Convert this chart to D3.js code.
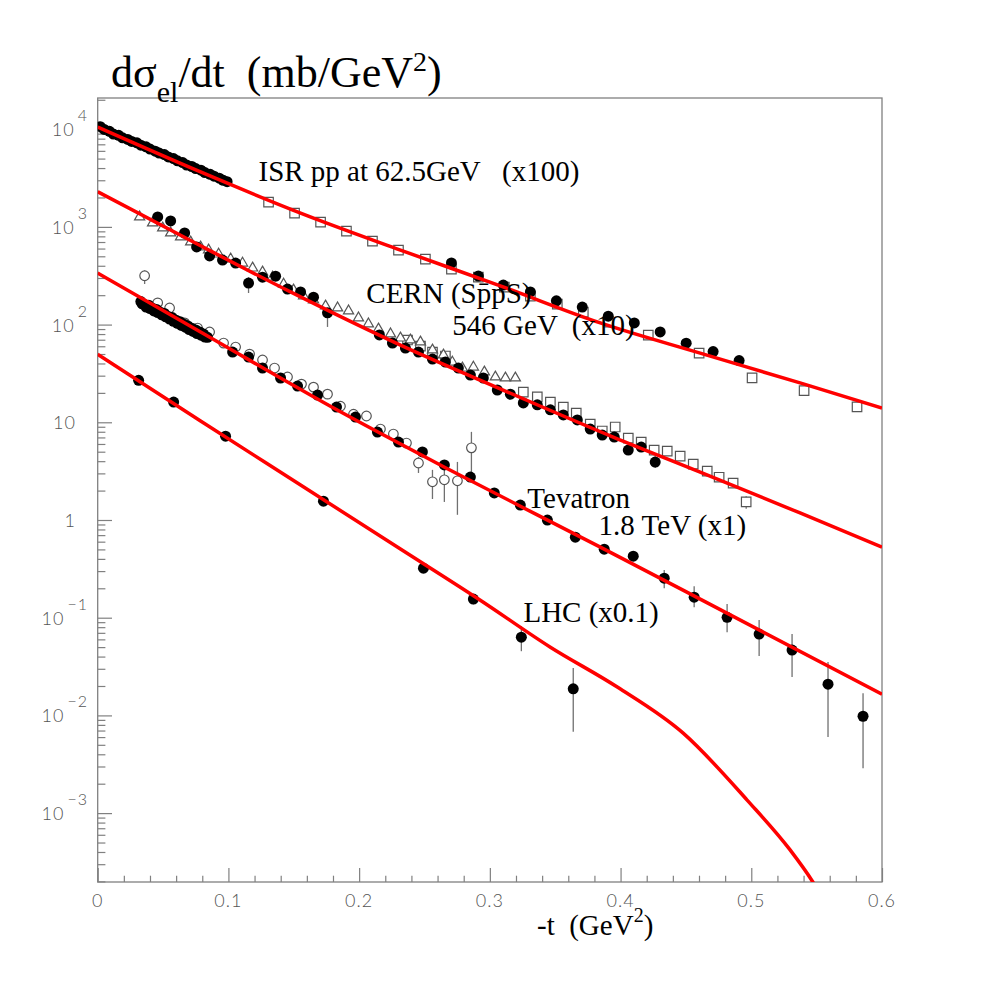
<!DOCTYPE html>
<html><head><meta charset="utf-8">
<script src="https://cdn.jsdelivr.net/npm/d3@7"></script>
<style>body{margin:0;background:#fff} text{white-space:pre}</style>
</head><body><svg id="c" width="981" height="981"></svg>
<script>
// ---------------- DATA ----------------
const xDomain = [0, 0.6];
const yDomain = [1.972e-4, 2.085e4];
const xTickValues = [0, 0.1, 0.2, 0.3, 0.4, 0.5, 0.6];
const xTickLabels = ["0", "0.1", "0.2", "0.3", "0.4", "0.5", "0.6"];
const yTickValues = [1e-3, 1e-2, 1e-1, 1, 10, 100, 1e3, 1e4];
const yTickBase = ["10", "10", "10", "1", "10", "10", "10", "10"];
const yTickExp  = ["\u22123", "\u22122", "\u22121", "", "", "2", "3", "4"];

// ISR pp 62.5 GeV (x100)
const isrBand = [[0.002,10600],[0.005,9950],[0.009,9500],[0.012,8900],[0.016,8650],[0.019,8150],[0.023,7850],[0.026,7500],[0.030,7250],[0.033,6850],[0.037,6600],[0.040,6250],[0.044,5950],[0.047,5700],[0.051,5500],[0.054,5200],[0.058,5000],[0.061,4750],[0.065,4550],[0.068,4300],[0.072,4150],[0.075,3950],[0.079,3800],[0.082,3600],[0.086,3450],[0.089,3300],[0.093,3150],[0.096,3000],[0.099,2900]];
const isrSquares = [[0.1307,1795],[0.1506,1385],[0.1705,1120],[0.1903,906],[0.2102,715],[0.2301,579],[0.2507,468],[0.2706,369],[0.2912,306],[0.3111,242],[0.3310,196],[0.3516,162],[0.3715,134],[0.3906,106],[0.4212,78],[0.4601,51],[0.5006,28.5],[0.5404,21.1],[0.5809,14.4]];
const isrCircles = [[0.2706,427],[0.2912,314],[0.3103,254],[0.3310,216],[0.3509,175],[0.3707,151],[0.3906,122],[0.4105,104],[0.4303,84],[0.4502,64.5],[0.4708,53],[0.4907,42.8]];
const isrCurve = [[0,10500],[0.0787,3650],[0.1552,1385],[0.2316,579],[0.3080,249],[0.3845,104],[0.4609,51],[0.5373,25.3],[0.6,14.0]];

// CERN SppS 546 GeV (x10)
const cernTriangles = [[0.0321,1265],[0.0420,1097],[0.0497,974],[0.0558,866],[0.0634,789],[0.0711,700],[0.0787,623],[0.0848,580],[0.0925,527],[0.1017,469],[0.1108,426],[0.1185,379],[0.1261,345],[0.1338,306],[0.1422,259],[0.1498,226],[0.1575,196],[0.1651,179],[0.1743,155],[0.1835,148],[0.1919,138],[0.1995,117],[0.2071,101.5],[0.2148,90.2],[0.2240,80.2],[0.2316,72.8],[0.2392,69.5],[0.2469,66.3],[0.2561,54.9],[0.2645,48.8],[0.2713,41.3],[0.2790,35.9],[0.2874,36.7],[0.2958,32.7],[0.3042,29.1],[0.3119,28.4],[0.3195,28.4]];
const cernCircles = [[0.0459,1265],[0.0558,1152],[0.0665,866],[0.0757,623],[0.0856,504],[0.0955,458],[0.1055,426],[0.1154,266,210,306],[0.1261,306],[0.1361,313,285,345],[0.1452,231,205,260],[0.1552,216],[0.1651,191,172,210],[0.1758,132,94.6,158],[0.2155,78.3],[0.2255,64.8],[0.2354,57.5],[0.2454,52.3],[0.2561,44.4],[0.2660,41.3],[0.2759,35.9],[0.2851,30.4],[0.2950,28.4],[0.3057,21.4],[0.3157,19.4],[0.3256,15.8],[0.3363,15.1],[0.3463,13.4],[0.3562,11.9],[0.3669,10.56],[0.3768,8.53],[0.3860,7.40],[0.3952,7.06],[0.4059,5.20],[0.4158,5.58],[0.4265,3.92,3.4,4.5]];
const cernSquares = [[0.2370,69.5],[0.2469,60.3],[0.2561,52.3],[0.2660,47.7],[0.3256,20.4],[0.3363,18.2],[0.3463,16.1],[0.3562,14.3],[0.3661,12.4],[0.3768,9.6],[0.3860,8.15],[0.3959,8.95],[0.4059,6.9],[0.4158,6.28],[0.4257,5.2],[0.4357,5.07],[0.4456,4.5],[0.4556,3.73],[0.4663,3.16],[0.4754,2.74],[0.4861,2.38,2.2,2.6],[0.4961,1.53,1.3,1.75]];
const cernCurve = [[0,2290],[0.0787,640],[0.1475,216],[0.2316,61.7],[0.3080,22.0],[0.3944,7.06],[0.4609,3.09],[0.5373,1.18],[0.6,0.527]];

// Tevatron 1.8 TeV (x1)
const tevBand = [[0.033,172],[0.034,163],[0.036,160],[0.037,151],[0.039,158],[0.040,146],[0.042,147],[0.043,138],[0.045,143],[0.046,133],[0.048,134],[0.049,126],[0.051,130],[0.052,120],[0.054,121],[0.055,114],[0.057,118],[0.058,108],[0.060,111],[0.061,103],[0.063,107],[0.064,98],[0.066,101],[0.067,94],[0.069,97],[0.070,89],[0.072,92],[0.073,85],[0.075,88],[0.076,81],[0.078,84],[0.079,78],[0.081,80],[0.082,74.5],[0.084,74]];
const tevCircles = [[0.1032,52.3],[0.1154,46.5],[0.1261,35.9],[0.1399,28.4],[0.1529,23.5],[0.1682,19.0],[0.1827,14.3],[0.1972,11.3],[0.2140,7.94],[0.2301,6.27],[0.2484,4.97],[0.2652,3.66],[0.2851,2.75],[0.3034,1.89],[0.3233,1.42],[0.3440,0.997],[0.3654,0.667],[0.3875,0.503],[0.4097,0.426],[0.4334,0.254,0.200,0.307],[0.4563,0.162,0.128,0.210],[0.4815,0.101,0.0710,0.138],[0.5060,0.0680,0.0405,0.0945],[0.5312,0.0466,0.0247,0.068],[0.5587,0.0209,0.0060,0.0352],[0.5855,0.0098,0.00288,0.0169]];
const tevOpen = [[0.0359,316,260,358],[0.0459,167],[0.0550,148],[0.0665,104],[0.0764,92.2],[0.0856,84],[0.0963,64.7],[0.1055,58.9],[0.1162,49.9],[0.1261,43.4],[0.1353,35.9],[0.1452,29.1],[0.1559,24.6],[0.1651,22.9],[0.1758,19.4],[0.1857,14.6],[0.1957,12.1],[0.2056,11.6],[0.2163,8.53],[0.2262,7.58],[0.2362,6.13],[0.2454,3.83,3.03,4.43],[0.2561,2.46,1.64,3.26],[0.2652,2.58,1.53,3.26],[0.2752,2.52,1.13,3.93],[0.2859,5.48,2.75,7.98]];
const tevCurve = [[0,337],[0.0787,84],[0.1857,12.8],[0.2698,3.23],[0.3845,0.527],[0.4609,0.155],[0.6,0.0165]];

// LHC (x0.1)
const lhcCircles = [[0.0313,26.9],[0.0581,16.1],[0.0978,7.21],[0.1727,1.56],[0.2492,0.321],[0.2874,0.155,0.137,0.175],[0.3241,0.0632,0.0454,0.082],[0.3638,0.0187,0.0068,0.0306]];
const lhcCurve = [[0,49.7],[0.0787,10.3],[0.1552,2.28],[0.2316,0.505],[0.2927,0.151],[0.3463,0.0499],[0.3975,0.0195],[0.4479,0.00658],[0.4968,0.00136],[0.5297,4.2e-4],[0.5465,2.03e-4],[0.5564,1.21e-4]];

const annotations = [
  {text: "ISR pp at 62.5GeV   (x100)", x: 0.123, v: 2950},
  {text: "CERN (Sp\u0304pS)", x: 0.2055, v: 168},
  {text: "546 GeV  (x10)", x: 0.2713, v: 78},
  {text: "Tevatron", x: 0.3287, v: 1.33},
  {text: "1.8 TeV (x1)", x: 0.3832, v: 0.695},
  {text: "LHC (x0.1)", x: 0.3257, v: 0.0905}
];

// ---------------- DRAW ----------------
const L = 97.7, R = 882, T = 98, B = 882;
const svg = d3.select("#c");
const x = d3.scaleLinear().domain(xDomain).range([L, R]);
const y = d3.scaleLog().domain(yDomain).range([B, T]);

svg.append("defs").append("clipPath").attr("id", "clip")
  .append("rect").attr("x", L).attr("y", T).attr("width", R - L).attr("height", B - T);

const axisColor = "#808080";
svg.append("rect").attr("x", L).attr("y", T).attr("width", R - L).attr("height", B - T)
  .attr("fill", "none").attr("stroke", axisColor).attr("stroke-width", 1.3);

// y axis ticks (inside)
const yMinor = [];
for (let e = -4; e <= 4; e++) for (let m = 2; m <= 9; m++) {
  const v = m * Math.pow(10, e);
  if (v > yDomain[0] && v < yDomain[1]) yMinor.push(v);
}
function styleAxis(g) {
  g.select(".domain").remove();
  g.selectAll("line").attr("stroke", axisColor).attr("stroke-width", 1.2);
  g.selectAll("text").remove();
}
svg.append("g").attr("transform", `translate(${L},0)`)
  .call(d3.axisLeft(y).tickValues(yTickValues).tickSize(-14.3).tickFormat("")).call(styleAxis);
svg.append("g").attr("transform", `translate(${L},0)`)
  .call(d3.axisLeft(y).tickValues(yMinor).tickSize(-7.7).tickFormat("")).call(styleAxis);

// x axis ticks (inside)
const xMinor = d3.range(0, 31).map(i => i * 0.02).filter(v => Math.abs(v * 10 - Math.round(v * 10)) > 1e-6);
svg.append("g").attr("transform", `translate(0,${B})`)
  .call(d3.axisBottom(x).tickValues(xTickValues).tickSize(-14).tickFormat("")).call(styleAxis);
svg.append("g").attr("transform", `translate(0,${B})`)
  .call(d3.axisBottom(x).tickValues(xMinor).tickSize(-6.3).tickFormat("")).call(styleAxis);

const tickFont = "Lato, 'DejaVu Sans', sans-serif";
svg.append("g").selectAll("text").data(xTickValues).join("text")
  .attr("x", d => x(d)).attr("y", B + 25).attr("text-anchor", "middle")
  .attr("font-family", tickFont).attr("font-weight", 300).attr("font-size", 18).attr("fill", "#555")
  .attr("letter-spacing", 1)
  .text((d, i) => xTickLabels[i]);

const yl = svg.append("g");
yTickValues.forEach((v, i) => {
  const hasExp = yTickExp[i] !== "";
  const t = yl.append("text")
    .attr("x", hasExp ? 88 : 76).attr("y", y(v) + 7).attr("text-anchor", "end")
    .attr("font-family", tickFont).attr("font-weight", 300).attr("font-size", 18).attr("fill", "#555")
    .attr("letter-spacing", 1);
  t.append("tspan").text(yTickBase[i]);
  if (hasExp) t.append("tspan").attr("dx", 3).attr("dy", -15).attr("font-size", 16).text(yTickExp[i]);
});

// markers
const plot = svg.append("g").attr("clip-path", "url(#clip)");
const errColor = "#707070";
function errBars(data) {
  plot.append("g").selectAll("line").data(data.filter(d => d.length > 2)).join("line")
    .attr("x1", d => x(d[0])).attr("x2", d => x(d[0]))
    .attr("y1", d => y(d[2])).attr("y2", d => y(d[3]))
    .attr("stroke", errColor).attr("stroke-width", 1.3);
}
function symbols(data, type, size, filled) {
  plot.append("g").selectAll("path").data(data).join("path")
    .attr("transform", d => `translate(${x(d[0])},${y(d[1])})`)
    .attr("d", d3.symbol().type(type).size(size))
    .attr("fill", filled ? "#000" : "#fff")
    .attr("stroke", filled ? "#000" : "#555").attr("stroke-width", filled ? 0.5 : 1.2);
}
function circles(data, r, filled) {
  plot.append("g").selectAll("circle").data(data).join("circle")
    .attr("cx", d => x(d[0])).attr("cy", d => y(d[1])).attr("r", r)
    .attr("fill", filled ? "#000" : "#fff")
    .attr("stroke", filled ? "none" : "#555").attr("stroke-width", 1.2);
}

[isrSquares, cernSquares, tevOpen, cernCircles, tevCircles, lhcCircles].forEach(errBars);
symbols(isrSquares, d3.symbolSquare, 90, false);
symbols(cernSquares, d3.symbolSquare, 90, false);
symbols(cernTriangles, d3.symbolTriangle, 45, false);
circles(tevOpen, 4.8, false);
circles(isrBand, 5.5, true);
circles(isrCircles, 5.5, true);
circles(cernCircles, 5.5, true);
circles(tevBand, 5.5, true);
circles(tevCircles, 5.5, true);
circles(lhcCircles, 5.5, true);

// model curves
const line = d3.line().x(d => x(d[0])).y(d => y(d[1])).curve(d3.curveMonotoneX);
[isrCurve, cernCurve, tevCurve, lhcCurve].forEach(c => {
  plot.append("path").datum(c).attr("d", line)
    .attr("fill", "none").attr("stroke", "#ff0000").attr("stroke-width", 3.5);
});

// annotations
const serif = "'Liberation Serif', 'Times New Roman', serif";
svg.append("g").selectAll("text").data(annotations).join("text")
  .attr("x", d => x(d.x)).attr("y", d => y(d.v))
  .attr("font-family", serif).attr("font-size", 29).attr("fill", "#000")
  .text(d => d.text);

// title
const title = svg.append("text").attr("x", 111).attr("y", 87)
  .attr("font-family", serif).attr("font-size", 44).attr("fill", "#000");
title.append("tspan").text("d\u03c3");
title.append("tspan").attr("dy", 15).attr("font-size", 30).text("el");
title.append("tspan").attr("dy", -15).text("/dt  (mb/GeV");
title.append("tspan").attr("dy", -16).attr("font-size", 28).text("2");
title.append("tspan").attr("dy", 16).text(")");

// x axis title
const xt = svg.append("text").attr("x", 537).attr("y", 935)
  .attr("font-family", serif).attr("font-size", 29).attr("fill", "#000");
xt.append("tspan").text("-t  (GeV");
xt.append("tspan").attr("dy", -13).attr("font-size", 20).text("2");
xt.append("tspan").attr("dy", 13).text(")");
</script></body></html>
